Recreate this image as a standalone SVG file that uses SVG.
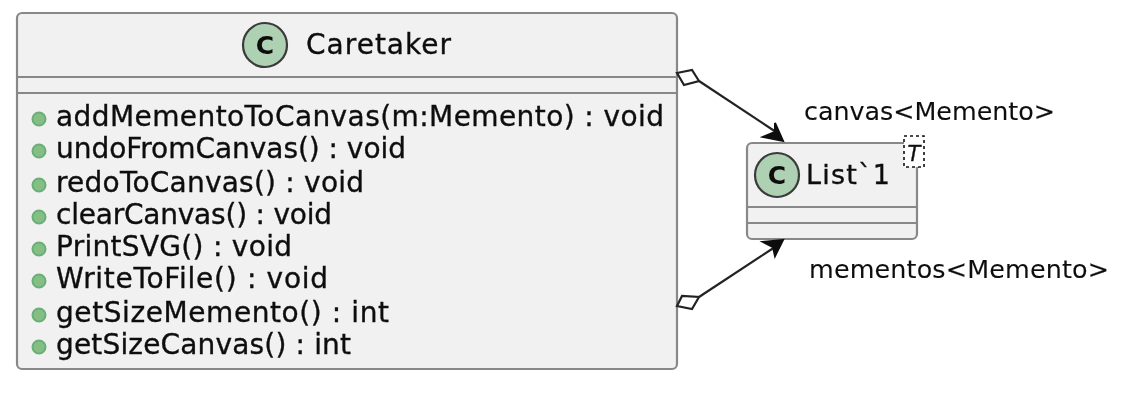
<svg xmlns="http://www.w3.org/2000/svg" width="1122" height="400" viewBox="0 0 1122 400">
<defs><filter id="soft" filterUnits="userSpaceOnUse" x="0" y="0" width="1122" height="400"><feGaussianBlur stdDeviation="0.68"/></filter></defs>
<style>
text{font-family:"DejaVu Sans",sans-serif;fill:#111;stroke:#111;stroke-width:0.35}
.box{fill:#f1f1f1;stroke:#888;stroke-width:2.2}
.sep{stroke:#888;stroke-width:2.2;fill:none}
.spot{fill:#add1b2;stroke:#3a3a3a;stroke-width:2.2}
.c{font-size:25px;font-weight:bold;text-anchor:middle;stroke-width:0}
.m{font-size:28px}
.lab{font-size:25.4px;stroke-width:0.1}
.dot{fill:#84be84;stroke:#6aae78;stroke-width:2}
.line{stroke:#222;stroke-width:2.2;fill:none}
.dia{fill:#fff;stroke:#222;stroke-width:2.2}
.head{fill:#111;stroke:#111;stroke-width:2}
</style>
<rect width="1122" height="400" fill="#fff"/>
<g filter="url(#soft)">
<g id="Caretaker">
<rect class="box" x="17" y="13" width="660" height="356" rx="5"/>
<line class="sep" x1="17" y1="77" x2="677" y2="77"/>
<line class="sep" x1="17" y1="93" x2="677" y2="93"/>
<circle class="spot" cx="265" cy="45" r="22"/>
<text class="c" x="265" y="54">C</text>
<text x="306" y="54" textLength="145" style="font-size:28px">Caretaker</text>
<circle class="dot" cx="39" cy="119" r="6.5"/><text class="m" x="56" y="126" textLength="608">addMementoToCanvas(m:Memento) : void</text>
<circle class="dot" cx="39" cy="151" r="6.5"/><text class="m" x="56" y="158" textLength="350">undoFromCanvas() : void</text>
<circle class="dot" cx="39" cy="185" r="6.5"/><text class="m" x="56" y="192" textLength="308">redoToCanvas() : void</text>
<circle class="dot" cx="39" cy="217" r="6.5"/><text class="m" x="56" y="224" textLength="276">clearCanvas() : void</text>
<circle class="dot" cx="39" cy="249" r="6.5"/><text class="m" x="56" y="256" textLength="236">PrintSVG() : void</text>
<circle class="dot" cx="39" cy="281" r="6.5"/><text class="m" x="56" y="288" textLength="272">WriteToFile() : void</text>
<circle class="dot" cx="39" cy="315" r="6.5"/><text class="m" x="56" y="322" textLength="333">getSizeMemento() : int</text>
<circle class="dot" cx="39" cy="347" r="6.5"/><text class="m" x="56" y="354" textLength="295">getSizeCanvas() : int</text>
</g>
<g id="List1">
<rect class="box" x="747" y="143" width="170" height="96" rx="5"/>
<line class="sep" x1="747" y1="207" x2="917" y2="207"/>
<line class="sep" x1="747" y1="223" x2="917" y2="223"/>
<circle class="spot" cx="777" cy="175" r="22"/>
<text class="c" x="777" y="184">C</text>
<text x="806" y="184" textLength="84" style="font-size:27px">List`1</text>
<rect x="904" y="136" width="20" height="31" fill="#fff" stroke="#111" stroke-width="1.6" stroke-dasharray="3,3"/>
<text x="914" y="161" text-anchor="middle" style="font-size:21px;font-style:italic">T</text>
</g>
<g id="connectors">
<path class="line" d="M699 81L776 132"/>
<path class="dia" d="M677 73L692 70L699 81L684 85Z"/>
<path class="head" d="M783 141L775 123L775 132L763 137Z"/>
<path class="line" d="M699 297L775 247"/>
<path class="dia" d="M677 306L682 296L699 297L692 309Z"/>
<path class="head" d="M783 240L763 242L773 247L775 256Z"/>
<text class="lab" x="804" y="120" textLength="251">canvas&lt;Memento&gt;</text>
<text class="lab" x="809" y="278" textLength="300">mementos&lt;Memento&gt;</text>
</g>
</g>
</svg>
